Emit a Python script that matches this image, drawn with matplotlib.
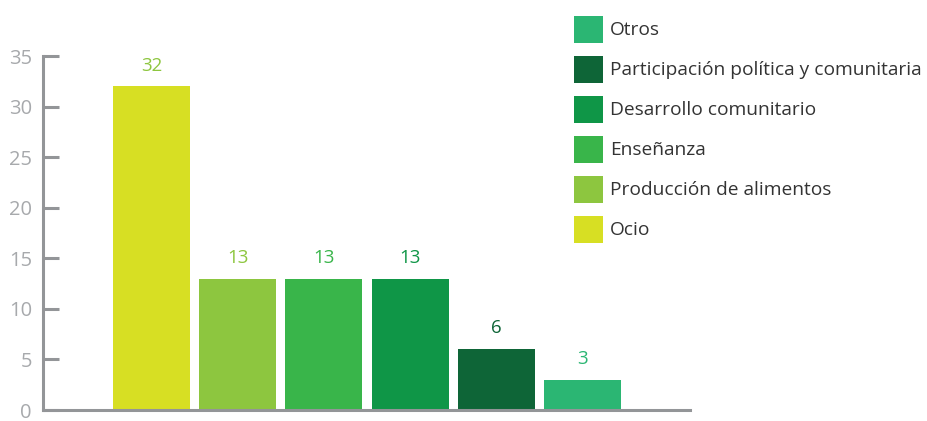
import matplotlib.pyplot as plt
from matplotlib.patches import Rectangle

# --- Data ---
categories = ["Ocio", "Producción de alimentos", "Enseñanza",
              "Desarrollo comunitario", "Participación política y comunitaria", "Otros"]
values = [32, 13, 13, 13, 6, 3]
bar_colors = ["#d7df23", "#8dc63f", "#39b54a", "#0f9647", "#0e6537", "#2bb673"]
label_colors = ["#8dc63f", "#8dc63f", "#39b54a", "#0f9647", "#0e6537", "#2bb673"]
y_ticks = [0, 5, 10, 15, 20, 25, 30, 35]

plt.rcParams["font.family"] = ["Open Sans", "DejaVu Sans"]
axis_gray = "#939598"
W, H = 928, 421

fig = plt.figure(figsize=(W / 100, H / 100), dpi=100)
ax = fig.add_axes([43 / W, 11 / H, (690 - 43) / W, (410 - 56) / H])

x = list(range(len(values)))
ax.bar(x, values, width=0.893, color=bar_colors, zorder=1)

for xi, v, c in zip(x, values, label_colors):
    ax.annotate(str(v), (xi, v), xytext=(0, 15), textcoords="offset points",
                ha="center", va="center", fontsize=13.5, color=c)

ax.set_xlim(-1.259, 6.247)
ax.set_ylim(0, 35)
ax.set_yticks(y_ticks)
ax.set_xticks([])

for side in ["top", "right"]:
    ax.spines[side].set_visible(False)
for side in ["left", "bottom"]:
    ax.spines[side].set_color(axis_gray)
    ax.spines[side].set_linewidth(2.2)
    ax.spines[side].set_zorder(3)

ax.tick_params(axis="y", direction="in", length=11.5, width=2.2, color=axis_gray,
               labelcolor="#a7a9ac", labelsize=14.5, pad=8)

# --- Legend (top entry = last category), drawn by hand for exact spacing ---
for i, (name, c) in enumerate(zip(categories[::-1], bar_colors[::-1])):
    top = 16 + i * 40
    fig.patches.append(Rectangle((574 / W, 1 - (top + 27) / H), 29 / W, 27 / H,
                                 transform=fig.transFigure, facecolor=c,
                                 edgecolor="none"))
    fig.text(610 / W, 1 - (top + 14) / H, name, ha="left", va="center",
             fontsize=13.8, color="#333333")

fig.savefig("out.png", dpi=100)
